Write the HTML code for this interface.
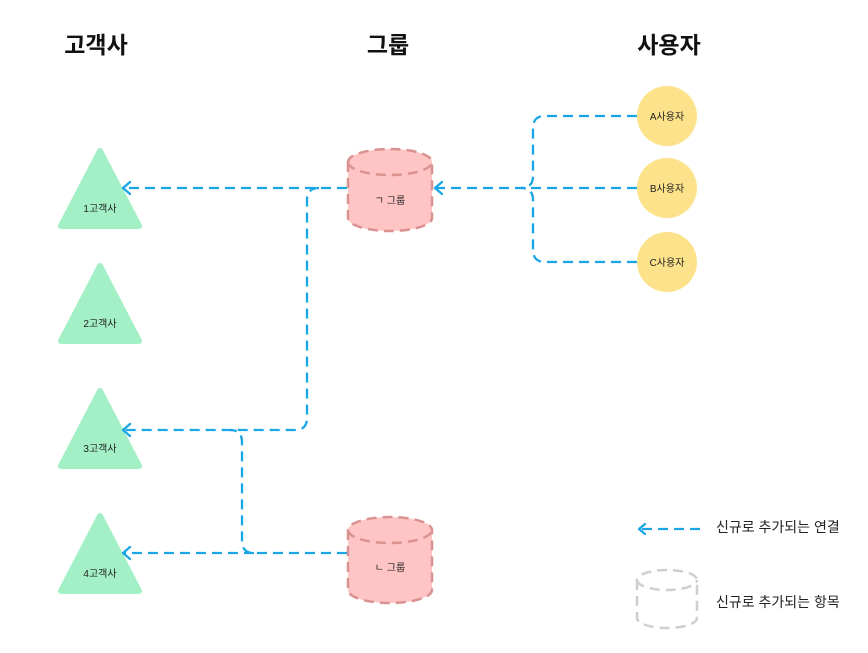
<!DOCTYPE html>
<html><head><meta charset="utf-8"><style>
body{margin:0;background:#fff;}
svg text{font-family:"Liberation Sans","Noto Sans CJK KR",sans-serif;}
</style></head><body>
<svg width="868" height="648" viewBox="0 0 868 648" xmlns="http://www.w3.org/2000/svg">
<g font-size="23" font-weight="bold" fill="#111" text-anchor="middle">
<text x="96" y="53">고객사</text><text x="388" y="53">그룹</text><text x="669" y="53">사용자</text>
</g>
<g fill="#a3f0c6" stroke="#a3f0c6" stroke-width="6" stroke-linejoin="round">
<path d="M100 151 L139 226 L61 226 Z"/>
<path d="M100 266 L139 341 L61 341 Z"/>
<path d="M100 391 L139 466 L61 466 Z"/>
<path d="M100 516 L139 591 L61 591 Z"/>
</g>
<g font-size="10" fill="#222" text-anchor="middle">
<text x="100" y="212">1고객사</text><text x="100" y="327">2고객사</text>
<text x="100" y="452">3고객사</text><text x="100" y="577">4고객사</text>
</g>
<g fill="#fde28c"><circle cx="667" cy="116" r="30"/><circle cx="667" cy="188" r="30"/><circle cx="667" cy="262" r="30"/></g>
<g font-size="10" fill="#222" text-anchor="middle">
<text x="667" y="120">A사용자</text><text x="667" y="192">B사용자</text><text x="667" y="266">C사용자</text>
</g>
<g fill="#ffc5c5" stroke="#d9928f" stroke-width="2.5" stroke-dasharray="10 6">
<path d="M348 162 L348 218 A42 13 0 0 0 432 218 L432 162 A42 13 0 0 0 348 162 Z"/>
<path d="M348 162 A42 13 0 0 0 432 162" fill="none"/>
<path d="M348 530 L348 590 A42 13 0 0 0 432 590 L432 530 A42 13 0 0 0 348 530 Z"/>
<path d="M348 530 A42 13 0 0 0 432 530" fill="none"/>
</g>
<g font-size="10" fill="#222" text-anchor="middle"><text x="390" y="204">ㄱ 그룹</text><text x="390" y="571">ㄴ 그룹</text></g>
<g fill="none" stroke="#1aa6e6" stroke-width="2.3" stroke-dasharray="10 6">
<path d="M637 116 L545 116 Q533 116 533 128 L533 176 Q533 188 521 188"/>
<path d="M637 262 L545 262 Q533 262 533 250 L533 200 Q533 188 521 188"/>
<path d="M637 188 L436 188"/>
<path d="M347 188 L124 188"/>
<path d="M319 188 Q307 188 307 200 L307 418 Q307 430 295 430 L124 430"/>
<path d="M347 553 L254 553 Q242 553 242 541 L242 442 Q242 430 230 430"/>
<path d="M254 553 L124 553"/>
<path d="M700 529 L640 529"/>
</g>
<g fill="none" stroke="#1aa6e6" stroke-width="2.3" stroke-linecap="round" stroke-linejoin="round">
<path d="M442 182 L435 188 L442 194"/>
<path d="M130 182 L123 188 L130 194"/>
<path d="M130 424 L123 430 L130 436"/>
<path d="M130 547 L123 553 L130 559"/>
<path d="M645 524 L639 529 L645 534"/>
</g>
<g fill="none" stroke="#cfcfcf" stroke-width="2.5" stroke-dasharray="10 6">
<path d="M637 580 L637 618 A30 10 0 0 0 697 618 L697 580 A30 10 0 0 0 637 580 Z"/>
<path d="M637 580 A30 10 0 0 0 697 580"/>
</g>
<g font-size="14" fill="#222"><text x="716" y="532">신규로 추가되는 연결</text><text x="716" y="607">신규로 추가되는 항목</text></g>
</svg>
</body></html>
